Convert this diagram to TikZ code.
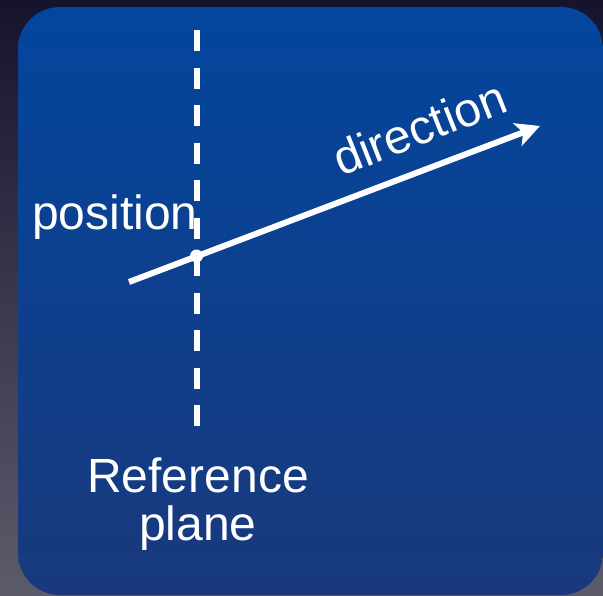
\documentclass[tikz,border=0pt]{standalone}
\usepackage{fontspec}
\setmainfont{Liberation Sans}
\usetikzlibrary{arrows.meta}
\definecolor{bgtop}{HTML}{16142D}
\definecolor{bgbot}{HTML}{5C5B6B}
\definecolor{boxtop}{HTML}{03469E}
\definecolor{boxbot}{HTML}{19397C}
\tikzset{
  lbl/.style={text=white, font=\fontsize{48}{56}\selectfont, inner sep=0pt},
  planeline/.style={draw=white, line width=6pt, dash pattern=on 21pt off 16.5pt},
  dirarrow/.style={draw=white, line width=6pt, -{Stealth[length=24pt,width=24pt,inset=6pt]}},
}
\begin{document}
\begin{tikzpicture}[x=1pt,y=-1pt]
\useasboundingbox (0,0) rectangle (603,595);
\shade[top color=bgtop, bottom color=bgbot] (0,0) rectangle (603,595);
\shade[top color=boxtop, bottom color=boxbot, rounded corners=42pt] (18,7) rectangle (603,595);
\coordinate (ptop) at (196.5,30);
\coordinate (pbot) at (196.5,426);
\draw[planeline] (ptop) -- (pbot);
\coordinate (astart) at (129,282);
\coordinate (atip) at (540,126);
\draw[dirarrow] (astart) -- (atip);
\node[circle, fill=white, inner sep=0pt, minimum size=13pt] (pos) at (196.5,256) {};
\node[lbl, anchor=base west] (poslbl) at (32,229) {position};
\node[lbl, anchor=base west, rotate=21.5] (dirlbl) at (341,177) {direction};
\node[lbl, anchor=base] (ref1) at (198,492) {Reference};
\node[lbl, anchor=base] (ref2) at (198,540) {plane};
\end{tikzpicture}
\end{document}
